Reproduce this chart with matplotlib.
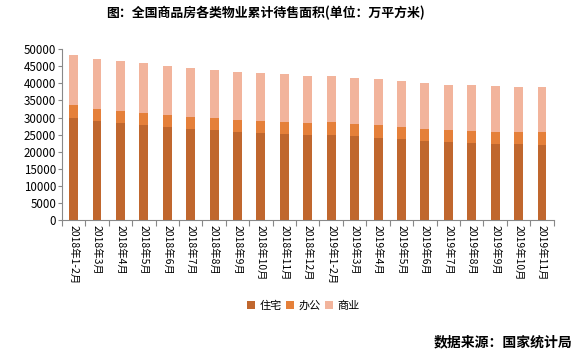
import numpy as np
import matplotlib.pyplot as plt

plt.rcParams['font.family'] = ['Noto Sans CJK SC', 'DejaVu Sans']

meses = ['2018年1-2月', '2018年3月', '2018年4月', '2018年5月', '2018年6月',
         '2018年7月', '2018年8月', '2018年9月', '2018年10月', '2018年11月',
         '2018年12月', '2019年1-2月', '2019年3月', '2019年4月', '2019年5月',
         '2019年6月', '2019年7月', '2019年8月', '2019年9月', '2019年10月',
         '2019年11月']

# 累计值 (万平方米)
zhuzhai = [29800, 29000, 28400, 27800, 27200, 26700, 26400, 25800, 25500, 25200,
           24800, 24900, 24500, 24100, 23700, 23200, 22900, 22600, 22300, 22300,
           22000]
bangong_top = [33700, 32500, 31900, 31300, 30800, 30200, 29900, 29300, 29000, 28700,
               28400, 28700, 28200, 27800, 27200, 26700, 26400, 26100, 25800, 25800,
               25800]
total = [48300, 47200, 46600, 46000, 45100, 44500, 43900, 43400, 43100, 42800,
         42200, 42200, 41600, 41300, 40700, 40100, 39500, 39500, 39200, 39000,
         39000]

zhuzhai = np.array(zhuzhai)
bangong = np.array(bangong_top) - zhuzhai
shangye = np.array(total) - np.array(bangong_top)

fig = plt.figure(figsize=(5.78, 3.57), dpi=100)
ax = fig.add_axes([0.107, 0.384, 0.851, 0.478])

x = np.arange(len(meses))
w = 0.38
ax.bar(x, zhuzhai, w, color='#C0672E', label='住宅')
ax.bar(x, bangong, w, bottom=zhuzhai, color='#E5803A', label='办公')
ax.bar(x, shangye, w, bottom=zhuzhai + bangong, color='#F2B49C', label='商业')

ax.set_xlim(-0.5, len(meses) - 0.5)
ax.set_ylim(0, 50000)
ax.set_yticks(np.arange(0, 50001, 5000))
ax.tick_params(axis='y', labelsize=8.3, length=3, color='#888888', pad=1)
ax.set_xticks(np.arange(-0.5, len(meses), 1))
ax.set_xticklabels([])
ax.set_xticks(x, minor=True)
ax.set_xticklabels(meses, minor=True, rotation=270, fontsize=7.5, va='top')
ax.tick_params(axis='x', which='major', length=4, color='#888888')
ax.tick_params(axis='x', which='minor', length=0, pad=4)
for s in ['top', 'right']:
    ax.spines[s].set_visible(False)
ax.spines['left'].set_color('#888888')
ax.spines['bottom'].set_color('#888888')

fig.text(0.46, 0.965, '图：全国商品房各类物业累计待售面积(单位：万平方米)',
         ha='center', va='center', fontsize=9.3, fontweight='bold')
fig.legend(loc='center', bbox_to_anchor=(0.525, 0.143), ncol=3, frameon=False,
           fontsize=8, handlelength=0.7, handleheight=0.7, handletextpad=0.4,
           columnspacing=0.4)
fig.text(0.99, 0.042, '数据来源：国家统计局', ha='right', va='center',
         fontsize=10, fontweight='bold')

fig.savefig('out.png', dpi=100)
